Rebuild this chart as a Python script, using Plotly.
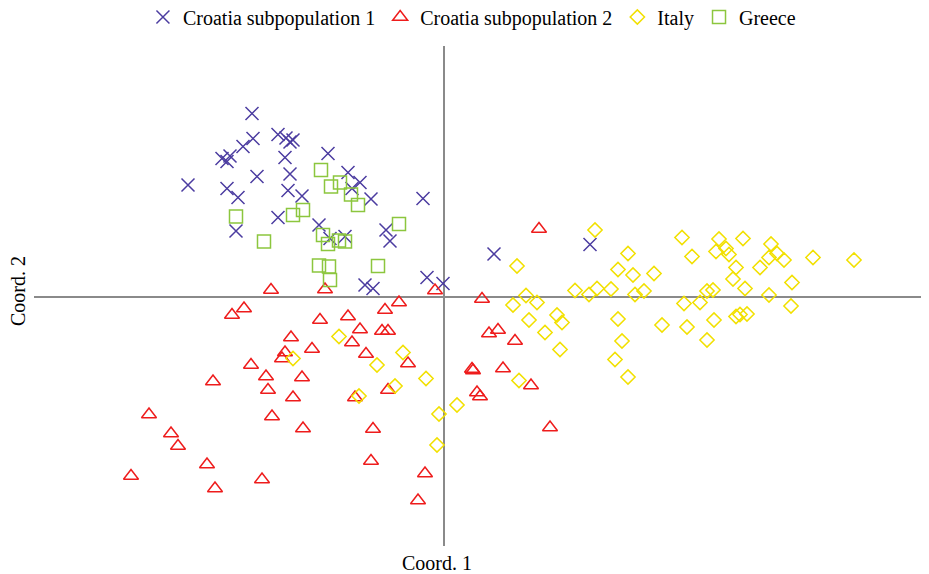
import plotly.graph_objects as go

# Croatia subpopulation 1 (crosses)
cro1_x = [-1.92, -1.91, -2.01, -1.66, -1.58, -1.54, -1.51, -2.22, -2.14, -2.17, -1.16, -1.59,
          -2.56, -1.87, -1.54, -2.17, -2.06, -1.56, -1.42, -0.96, -0.84, -0.92, -0.73, -0.21,
          -1.66, -2.08, -1.25, -1.14, -0.99, -0.58, -0.54, -0.79, -0.71, -0.17, -0.01, 0.50, 1.46]
cro1_y = [1.83, 1.58, 1.50, 1.62, 1.585, 1.545, 1.565, 1.38, 1.405, 1.35, 1.43, 1.39,
          1.115, 1.20, 1.225, 1.08, 0.99, 1.06, 1.005, 1.24, 1.14, 1.08, 0.975, 0.98,
          0.79, 0.655, 0.715, 0.58, 0.60, 0.665, 0.555, 0.115, 0.08, 0.19, 0.13, 0.425, 0.52]

# Croatia subpopulation 2 (triangles)
cro2_x = [-1.73, -1.19, -0.09, -2.12, -2.00, -1.24, -0.96, -0.59, -0.45, -1.53, -0.84, -0.62,
          -0.56, -1.59, -1.62, -1.32, -0.92, -0.78, -0.36, -1.93, -1.78, -1.42, -2.31, -1.76,
          -1.51, -0.89, -0.56, -2.95, -1.72, -1.41, -0.71, -2.73, -2.66, -2.37, -0.73, -3.13,
          -1.82, -2.29, -0.19, -0.26, 0.95, 0.38, 0.45, 0.54, 0.71, 0.28, 0.29, 0.59, 0.87,
          0.33, 0.36, 1.06]
cro2_y = [0.065, 0.07, 0.06, -0.185, -0.12, -0.235, -0.20, -0.135, -0.06, -0.41, -0.33, -0.345,
          -0.345, -0.56, -0.62, -0.525, -0.46, -0.575, -0.67, -0.685, -0.80, -0.81, -0.85, -0.935,
          -1.01, -1.01, -0.935, -1.18, -1.20, -1.32, -1.325, -1.37, -1.495, -1.68, -1.645, -1.795,
          -1.83, -1.92, -1.77, -2.04, 0.675, -0.025, -0.37, -0.335, -0.445, -0.725, -0.74, -0.72, -0.89,
          -0.96, -1.00, -1.31]

# Italy (diamonds)
ita_x = [-1.05, -1.51, -0.41, -0.67, -0.18, -0.49, -0.85, -0.05, -0.07, 0.13, 0.75, 0.73,
         1.51, 0.82, 0.69, 0.93, 0.85, 1.13, 1.18, 1.01, 1.16, 1.31, 1.45, 1.53, 1.67, 1.74,
         1.84, 1.89, 1.91, 2.00, 2.10, 1.74, 1.78, 1.71, 1.84, 2.18, 2.38, 2.48, 2.40, 2.56,
         2.43, 2.63, 2.70, 2.63, 2.69, 2.72, 2.75, 2.82, 2.85, 2.99, 2.92, 2.89, 3.01, 2.92,
         2.96, 3.03, 3.16, 3.25, 3.27, 3.33, 3.40, 3.25, 3.48, 3.47, 3.69, 4.10]
ita_y = [-0.40, -0.62, -0.56, -0.685, -0.82, -0.895, -0.995, -1.175, -1.485, -1.085, -0.84, 0.305,
         0.665, 0.01, -0.085, -0.06, -0.235, -0.185, -0.26, -0.36, -0.53, 0.06, 0.02, 0.08, 0.075, 0.27,
         0.43, 0.215, 0.02, 0.055, 0.23, -0.225, -0.445, -0.63, -0.805, -0.285, 0.59, 0.40, -0.07, -0.06,
         -0.305, -0.435, -0.235, 0.055, 0.065, 0.45, 0.575, 0.48, 0.42, 0.58, 0.29, 0.175, 0.08, -0.20,
         -0.18, -0.175, 0.29, 0.39, 0.525, 0.43, 0.365, 0.015, 0.14, -0.095, 0.39, 0.365]

# Greece (squares)
gre_x = [-1.23, -1.13, -1.04, -0.93, -0.86, -1.41, -1.51, -2.08, -1.80, -1.21, -1.16, -1.05,
         -0.99, -0.45, -1.25, -1.15, -1.14, -0.66]
gre_y = [1.265, 1.10, 1.14, 1.02, 0.915, 0.865, 0.815, 0.80, 0.55, 0.615, 0.525, 0.56,
         0.55, 0.725, 0.31, 0.30, 0.165, 0.305]

series = [
    ("Croatia subpopulation 1", cro1_x, cro1_y, "x-thin-open", "#4b3ca0", 13),
    ("Croatia subpopulation 2", cro2_x, cro2_y, "triangle-up-open", "#ee1c1c", 13),
    ("Italy", ita_x, ita_y, "diamond-open", "#f2e000", 11),
    ("Greece", gre_x, gre_y, "square-open", "#8cc63e", 13),
]

fig = go.Figure()
for name, xs, ys, sym, col, sz in series:
    fig.add_trace(go.Scatter(
        x=xs, y=ys, mode="markers", name=name,
        marker=dict(symbol=sym, size=sz, color=col, line=dict(color=col, width=1.5)),
    ))

FONT = "Liberation Serif"
axis_common = dict(showgrid=False, showticklabels=False, ticks="", showline=False,
                   zeroline=True, zerolinecolor="#8a8a8a", zerolinewidth=2)
fig.update_layout(
    width=929, height=574,
    margin=dict(l=26, r=0, t=38, b=36, autoexpand=False),
    paper_bgcolor="white", plot_bgcolor="white",
    font=dict(family=FONT, size=20, color="black"),
    xaxis=dict(range=[-4.10, 4.93], **axis_common),
    yaxis=dict(range=[-2.495, 2.505], **axis_common),
    showlegend=True,
    legend=dict(orientation="h", x=0.485, xanchor="center", y=1.058, yanchor="middle",
                font=dict(family=FONT, size=20, color="black"),
                itemwidth=30, tracegroupgap=0, bgcolor="rgba(0,0,0,0)"),
    annotations=[
        dict(text="Coord. 1", xref="paper", yref="paper", x=0.446, y=-0.034,
             xanchor="center", yanchor="middle", showarrow=False,
             font=dict(family=FONT, size=20, color="black")),
        dict(text="Coord. 2", xref="paper", yref="paper", x=-0.0177, y=0.51,
             xanchor="center", yanchor="middle", showarrow=False, textangle=-90,
             font=dict(family=FONT, size=20, color="black")),
    ],
)
fig.write_html("out.html")
